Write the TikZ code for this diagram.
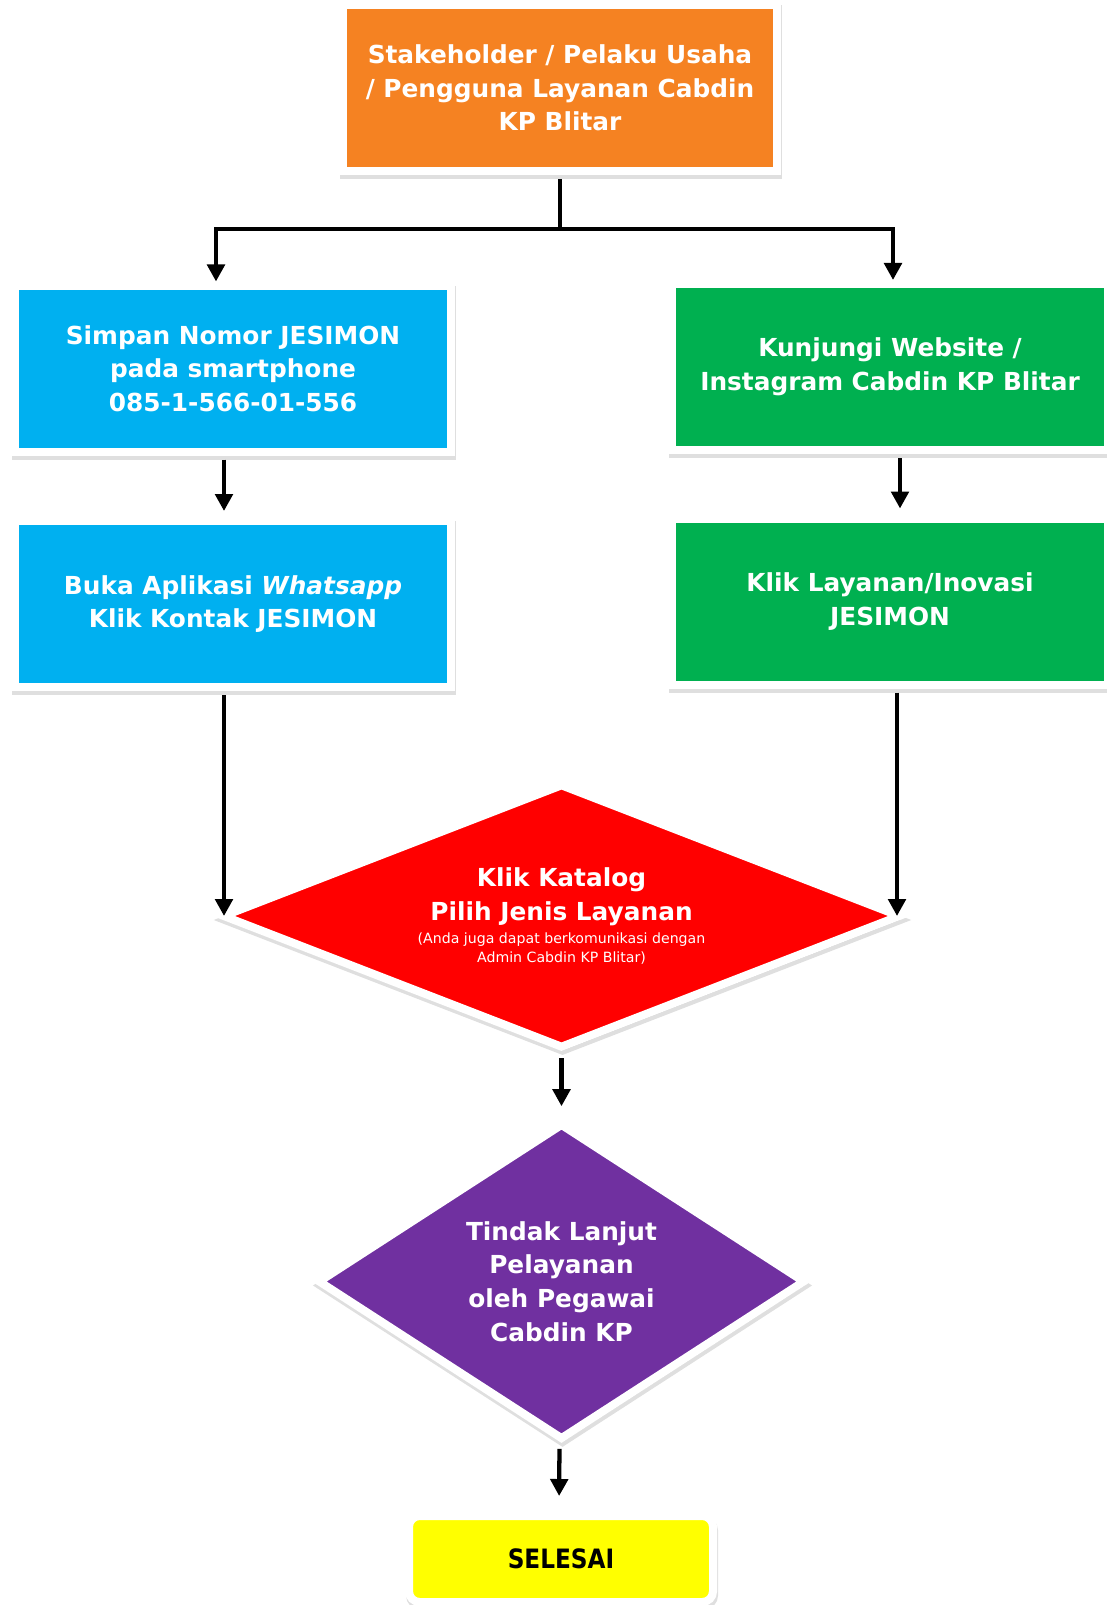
\documentclass[tikz,border=0pt]{standalone}
\usepackage{xcolor}
\usepackage{fontspec}
\setmainfont{DejaVu Sans}
\newfontfamily\narrowfont{DejaVu Sans}[FakeStretch=0.87]
\usetikzlibrary{shapes.geometric,shadows,arrows.meta}

\definecolor{boxorange}{RGB}{245,130,34}
\definecolor{boxblue}{RGB}{0,176,240}
\definecolor{boxgreen}{RGB}{0,176,80}
\definecolor{boxred}{RGB}{255,0,0}
\definecolor{boxpurple}{RGB}{112,48,160}
\definecolor{boxyellow}{RGB}{255,255,0}

\begin{document}
\begin{tikzpicture}[x=0.75pt,y=0.75pt,yscale=-1,xscale=1,
    box/.style={draw=white, line width=6pt, text=white, align=center, inner sep=0pt,
        font=\bfseries\fontsize{18.6}{25.2}\selectfont,
        drop shadow={shadow xshift=0.75pt, shadow yshift=-3pt, fill=black!50, draw=black!50, line width=6pt, opacity=0.25}},
    process/.style={box, rectangle, minimum width=327pt, minimum height=124.5pt},
    decision/.style={box, diamond},
    link/.style={line width=3.2pt, shorten <=3pt},
    arrow/.style={link, -{Triangle[length=12.75pt,width=13pt]}}]
        \useasboundingbox (0,0) rectangle (1106,1605);

        % boxes
        \draw (560,88) node [process, fill=boxorange, minimum width=325.5pt] (stake) {Stakeholder / Pelaku Usaha\\/ Pengguna Layanan Cabdin\\KP Blitar};
        \draw (233,368.5) node [process, fill=boxblue] (simpan) {Simpan Nomor JESIMON\\pada smartphone\\085-1-566-01-556};
        \draw (233,604) node [process, fill=boxblue] (buka) {Buka Aplikasi \textit{Whatsapp}\\Klik Kontak JESIMON};
        \draw (890,367) node [process, fill=boxgreen] (web) {Kunjungi Website /\\Instagram Cabdin KP Blitar};
        \draw (890,601.5) node [process, fill=boxgreen] (layanan) {Klik Layanan/Inovasi\\JESIMON};
        \draw (561.5,916) node [decision, fill=boxred, minimum width=509pt, minimum height=198.5pt, aspect=2.56] (katalog) {Klik Katalog\\Pilih Jenis Layanan\\[-8.25pt]{\mdseries\fontsize{10.6}{14}\selectfont (Anda juga dapat berkomunikasi dengan}\\[-11.1pt]{\mdseries\fontsize{10.6}{14}\selectfont Admin Cabdin KP Blitar)}};
        \draw (561.5,1281.5) node [decision, fill=boxpurple, minimum width=365.7pt, minimum height=237.4pt, aspect=1.54] (tindak) {Tindak Lanjut\\Pelayanan\\oleh Pegawai\\Cabdin KP};
        \draw (561,1559) node [box, rectangle, rounded corners=8pt, fill=boxyellow, text=black, minimum width=228pt, minimum height=64.5pt, font=\narrowfont\bfseries\fontsize{20}{25}\selectfont] (selesai) {SELESAI};

        % connectors
        \coordinate (fork) at (560,229);
        \draw [link] (stake.south) -- (fork);
        \draw [arrow, shorten <=0pt] (fork) -| ([xshift=-12.75pt]simpan.north);
        \draw [arrow, shorten <=0pt] (fork) -| ([xshift=2.25pt]web.north);
        \draw [arrow, shorten >=4.5pt] ([xshift=-6.75pt]simpan.south) -- ([xshift=-6.75pt]buka.north);
        \draw [arrow, shorten >=4.5pt] ([xshift=7.5pt]web.south) -- ([xshift=7.5pt]layanan.north);
        \draw [arrow] ([xshift=-6.75pt]buka.south) -- ([xshift=-6.75pt]buka.south |- katalog.west);
        \draw [arrow] ([xshift=5.25pt]layanan.south) -- ([xshift=5.25pt]layanan.south |- katalog.east);
        \draw [arrow, shorten <=4.5pt, shorten >=9.75pt] (katalog.south) -- (tindak.north);
        \draw [arrow, shorten <=3.75pt, shorten >=12pt] ([xshift=-1.5pt]tindak.south) -- ([xshift=-1.5pt]selesai.north);
    \end{tikzpicture}
\end{document}
